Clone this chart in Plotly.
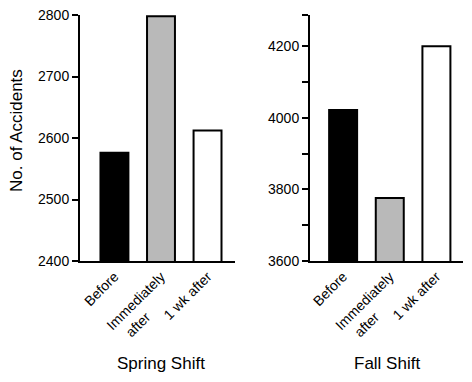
import plotly.graph_objects as go

categories = ["Before", "Immediately after", "1 wk after"]
category_labels = ["Before", "Immediately<br>after" + "\u00a0" * 10, "1 wk after"]
spring_values = [2576, 2798, 2612]
fall_values = [4022, 3776, 4200]
bar_colors = ["black", "#b9b9b9", "white"]

spring_ticks = [2400, 2500, 2600, 2700, 2800]
spring_ticklabels = ["2400", "2500", "2600", "2700", "2800"]
fall_ticks = [3600, 3700, 3800, 3900, 4000, 4100, 4200, 4287]
fall_ticklabels = ["3600", "", "3800", "", "4000", "", "4200", ""]

FONT = "Arial, Liberation Sans, Helvetica, sans-serif"
# page is offset 8px by the default body margin; work in figure coordinates
OFF = 8
W, H = 472 - OFF, 382 - OFF


def px(x):
    return (x - OFF) / W


def py(y):
    return (H - (y - OFF)) / H


fig = go.Figure()
fig.add_trace(go.Bar(x=categories, y=spring_values, xaxis="x", yaxis="y",
                     marker=dict(color=bar_colors, line=dict(color="black", width=2)),
                     width=0.6, showlegend=False))
fig.add_trace(go.Bar(x=categories, y=fall_values, xaxis="x2", yaxis="y2",
                     marker=dict(color=bar_colors, line=dict(color="black", width=2)),
                     width=0.6, showlegend=False))

ydom = [py(261), py(15)]
axis_common = dict(showline=True, linecolor="black", linewidth=2, showgrid=False,
                   zeroline=False, automargin=False, ticklabeloverflow="allow",
                   tickfont=dict(family=FONT, size=14, color="black"))
xcat = dict(ticks="", tickangle=-45, tickmode="array", tickvals=categories,
            ticktext=category_labels)

fig.update_layout(
    width=W, height=H,
    margin=dict(l=0, r=0, t=0, b=0),
    paper_bgcolor="white", plot_bgcolor="white",
    font=dict(family=FONT, color="black"),
    xaxis=dict(domain=[px(80), px(235)], range=[-0.74, 2.59], anchor="y",
               **xcat, **axis_common),
    yaxis=dict(domain=ydom, range=[2400, 2800], anchor="x",
               tickvals=spring_ticks, ticktext=spring_ticklabels,
               ticks="outside", ticklen=6, tickwidth=2, tickcolor="black", **axis_common),
    xaxis2=dict(domain=[px(310), px(463)], range=[-0.71, 2.57], anchor="y2",
                **xcat, **axis_common),
    yaxis2=dict(domain=ydom, range=[3600, 4287], anchor="x2",
                tickvals=fall_ticks, ticktext=fall_ticklabels,
                ticks="outside", ticklen=6, tickwidth=2, tickcolor="black", **axis_common),
    annotations=[
        dict(text="No. of Accidents", textangle=-90, x=px(16), y=py(131),
             xref="paper", yref="paper", showarrow=False, xanchor="center", yanchor="middle",
             font=dict(family=FONT, size=17, color="black")),
        dict(text="Spring Shift", x=px(160.5), y=py(363),
             xref="paper", yref="paper", showarrow=False, xanchor="center", yanchor="middle",
             font=dict(family=FONT, size=17, color="black")),
        dict(text="Fall Shift", x=px(386.5), y=py(363),
             xref="paper", yref="paper", showarrow=False, xanchor="center", yanchor="middle",
             font=dict(family=FONT, size=17, color="black")),
    ],
)

fig.write_html("out.html")
